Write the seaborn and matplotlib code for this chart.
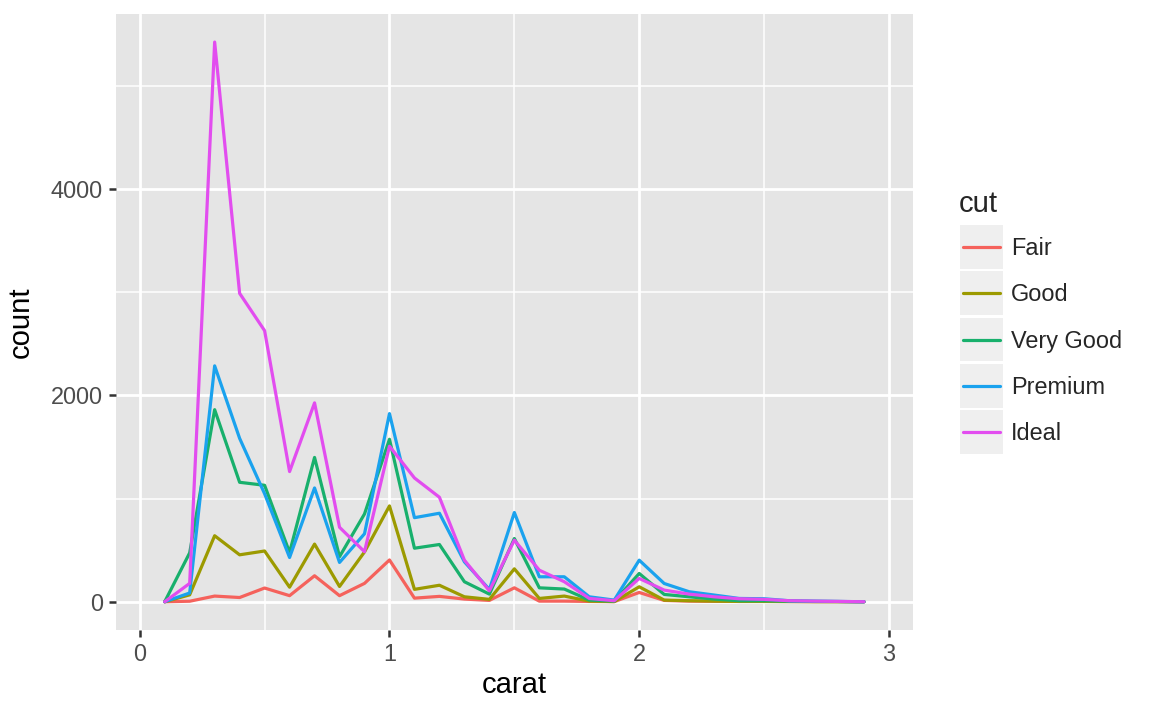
import pandas as pd
import numpy as np
import matplotlib
matplotlib.use("Agg")
import matplotlib.pyplot as plt
import seaborn as sns
from matplotlib.patches import Rectangle
from matplotlib.lines import Line2D
from matplotlib.ticker import MultipleLocator

# Frequency polygon of diamond carat (binwidth 0.1) by cut
carat = [0.1, 0.2, 0.3, 0.4, 0.5, 0.6, 0.7, 0.8, 0.9, 1.0,
         1.1, 1.2, 1.3, 1.4, 1.5, 1.6, 1.7, 1.8, 1.9, 2.0,
         2.1, 2.2, 2.3, 2.4, 2.5, 2.6, 2.7, 2.8, 2.9]

cuts = ["Fair", "Good", "Very Good", "Premium", "Ideal"]

fair = [0, 5, 55, 41, 133, 59, 252, 59, 178, 405,
        35, 52, 26, 13, 135, 6, 6, 3, 1, 90,
        13, 6, 4, 3, 3, 2, 1, 1, 0]
good = [0, 67, 640, 455, 492, 141, 559, 148, 483, 929,
        120, 160, 48, 23, 319, 32, 55, 6, 2, 145,
        16, 10, 6, 3, 3, 2, 1, 1, 0]
very_good = [0, 474, 1862, 1158, 1129, 478, 1399, 437, 851, 1575,
             519, 555, 194, 74, 613, 135, 123, 16, 6, 274,
             71, 48, 26, 10, 10, 5, 3, 2, 0]
premium = [0, 85, 2287, 1584, 1047, 429, 1103, 381, 659, 1824,
           815, 858, 387, 119, 865, 242, 242, 48, 16, 403,
           177, 97, 65, 32, 29, 10, 6, 3, 0]
ideal = [0, 178, 5426, 2990, 2628, 1262, 1928, 722, 485, 1508,
         1200, 1013, 403, 106, 597, 306, 194, 32, 10, 226,
         113, 74, 48, 29, 23, 10, 6, 3, 0]

colors = ["#F5625C", "#9C9A00", "#18B06C", "#1AA2EE", "#E24DEF"]

# long format table for seaborn
series = [fair, good, very_good, premium, ideal]
df = pd.concat(
    [pd.DataFrame({"carat": carat, "count": vals, "cut": name})
     for name, vals in zip(cuts, series)],
    ignore_index=True,
)

sns.set_theme(style="darkgrid")
plt.rcParams["font.family"] = ["Liberation Sans", "DejaVu Sans"]

W, H = 1152, 711
fig = plt.figure(figsize=(W / 100, H / 100), dpi=100)
ax = fig.add_axes([116 / W, 1 - 629.7 / H, (912.7 - 116) / W, (629.7 - 14) / H])
ax.set_facecolor("#E5E5E5")

sns.lineplot(data=df, x="carat", y="count", hue="cut", hue_order=cuts,
             palette=colors, linewidth=2.3, legend=False, ax=ax,
             estimator=None, sort=False)

ax.set_xlim(-0.095, 3.095)
ax.set_ylim(-271, 5698)
ax.xaxis.set_minor_locator(MultipleLocator(0.5))
ax.yaxis.set_minor_locator(MultipleLocator(1000))
ax.set_xticks([0, 1, 2, 3])
ax.set_xticklabels(["0", "1", "2", "3"])
ax.set_yticks([0, 2000, 4000])
ax.set_yticklabels(["0", "2000", "4000"])

ax.grid(which="major", color="white", linewidth=2.0)
ax.grid(which="minor", color="white", linewidth=1.1)
ax.set_axisbelow(True)
for s in ax.spines.values():
    s.set_visible(False)

ax.tick_params(which="major", length=5.3, width=1.8, color="#333333",
               labelsize=16.9, labelcolor="#4D4D4D", pad=4.2,
               bottom=True, left=True)
ax.tick_params(which="minor", length=0, bottom=False, left=False)

ax.set_xlabel("carat", fontsize=21.1, color="black")
ax.set_ylabel("count", fontsize=21.1, color="black")
ax.xaxis.set_label_coords(0.5, -0.067)
ax.yaxis.set_label_coords(-0.1017, 0.5)

# legend drawn ggplot style (grey key boxes)
def fx(px):
    return px / W

def fy(py):
    return 1 - py / H

fig.text(fx(958.6), fy(204), "cut", fontsize=21.1, va="center", ha="left")
key_top = 224.8
key_size = 43.8
step = 46.4
for i, (name, col) in enumerate(zip(cuts, colors)):
    top = key_top + i * step
    fig.add_artist(Rectangle((fx(959.6), fy(top + key_size)), key_size / W,
                             key_size / H, transform=fig.transFigure,
                             facecolor="#EFEFEF", edgecolor="none"))
    yc = fy(top + key_size / 2)
    fig.add_artist(Line2D([fx(963), fx(1000)], [yc, yc],
                          transform=fig.transFigure, color=col, linewidth=2.3))
    fig.text(fx(1010.8), fy(top + key_size / 2 + 1.5), name, fontsize=16.9,
             va="center", ha="left")

fig.savefig("out.png", dpi=100)
